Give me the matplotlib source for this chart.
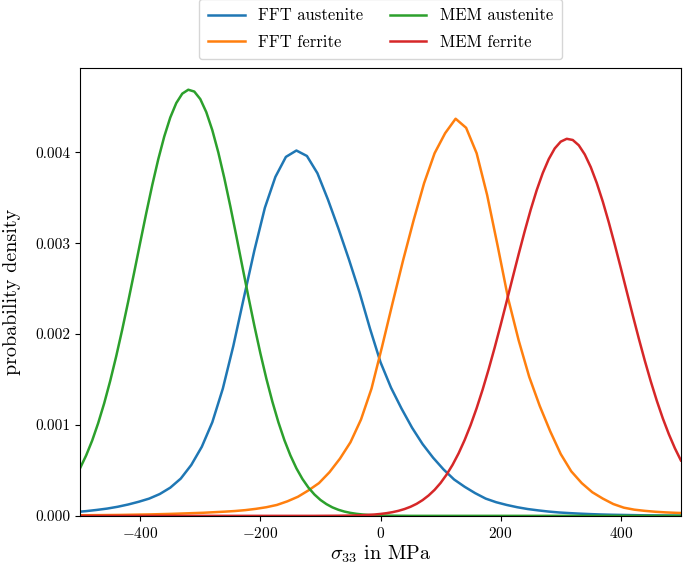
import numpy as np
import matplotlib
matplotlib.use("Agg")
import matplotlib.pyplot as plt

plt.rcParams['font.family'] = 'serif'
plt.rcParams['font.serif'] = ['cmr10']
plt.rcParams['mathtext.fontset'] = 'cm'
plt.rcParams['axes.formatter.use_mathtext'] = True
plt.rcParams['font.size'] = 11

# FFT results (binned, coarse grid)
x_fft_austenite = np.arange(-507.5, 508, 17.5)
fft_austenite = [
    0.000042, 0.000052, 0.000065, 0.000080, 0.000100, 0.000125, 0.000155, 0.000190,
    0.00024, 0.00031, 0.00041, 0.00056, 0.00076, 0.00103, 0.00140, 0.00187,
    0.00240, 0.00292, 0.00339, 0.00373, 0.00395, 0.00402,
    0.00396, 0.00377, 0.00348, 0.00316, 0.00282, 0.00246, 0.00206, 0.00169,
    0.00141, 0.00118, 0.00097, 0.00079, 0.00064, 0.00051, 0.00040, 0.00032,
    0.00025, 0.00019, 0.00015, 0.00012, 0.000095, 0.000075, 0.000060, 0.000047,
    0.000037, 0.000030, 0.000024, 0.000019, 0.000015, 0.000012, 0.000010, 0.000008,
    0.000006, 0.000005, 0.000004, 0.000003, 0.000003,
]

x_fft_ferrite = np.arange(-505, 511, 17.5)
fft_ferrite = [
    0.000006, 0.000007, 0.000008, 0.000009, 0.000010, 0.000012, 0.000014, 0.000016,
    0.000019, 0.000022, 0.000026, 0.000030, 0.000034, 0.000040, 0.000046, 0.000053,
    0.000063, 0.000077, 0.000095, 0.00012, 0.00016, 0.00021, 0.00028, 0.00036,
    0.00048, 0.00063, 0.00081, 0.00106, 0.00140, 0.00186, 0.00234, 0.00281,
    0.00325, 0.00366, 0.00399, 0.00421,
    0.00437, 0.00427, 0.00399, 0.00353, 0.00297, 0.00239, 0.00193, 0.00153,
    0.00121, 0.00093, 0.00068, 0.00049, 0.00036, 0.00026, 0.00019, 0.00013,
    0.000090, 0.000068, 0.000055, 0.000045, 0.000038, 0.000033, 0.000030,
]

# MEM results (smooth, fine grid)
x_mem = np.arange(-500, 501, 10)
mem_austenite = [
    0.000526, 0.000665, 0.000828, 0.001020, 0.001238, 0.001484, 0.001755, 0.002048,
    0.002359, 0.002681, 0.003008, 0.003330, 0.003639, 0.003923, 0.004174, 0.004383,
    0.004542, 0.004646, 0.004689, 0.004669, 0.004586, 0.004442, 0.004244, 0.003999,
    0.003716, 0.003406, 0.003079, 0.002744, 0.002413, 0.002092, 0.001789, 0.001509,
    0.001256, 0.001030, 0.000833, 0.000665, 0.000523, 0.000406, 0.000311, 0.000235,
    0.000175, 0.000129, 0.000093, 0.0000666, 0.0000469, 0.0000326, 0.0000223, 0.0000151,
    0.0000100, 0.0000066, 0.0000043, 0.0000027, 0.0000017, 0.0000010, 0.0000007,
] + [0.0] * 46
mem_ferrite = [0.0] * 40 + [
    0.0000004, 0.0000007, 0.0000010, 0.0000015, 0.0000023, 0.0000034, 0.0000050, 0.0000073,
    0.0000105, 0.0000149, 0.0000211, 0.0000294, 0.0000407, 0.0000555, 0.0000750, 0.000100,
    0.000132, 0.000173, 0.000224, 0.000286, 0.000362, 0.000454, 0.000562, 0.000688,
    0.000834, 0.000999, 0.001185, 0.001390, 0.001613, 0.001851, 0.002101, 0.002360,
    0.002622, 0.002881, 0.003132, 0.003369, 0.003584, 0.003771, 0.003925, 0.004043,
    0.004118, 0.004149, 0.004136, 0.004078, 0.003977, 0.003837, 0.003662, 0.003458,
    0.003229, 0.002983, 0.002727, 0.002465, 0.002204, 0.001950, 0.001706, 0.001477,
    0.001265, 0.001071, 0.000898, 0.000744, 0.000610,
]

fig, ax = plt.subplots(figsize=(6.85, 5.7), dpi=100)
fig.subplots_adjust(left=0.117, right=0.994, bottom=0.095, top=0.881)

ax.plot(x_fft_austenite, fft_austenite, lw=1.8, label="FFT austenite")
ax.plot(x_fft_ferrite, fft_ferrite, lw=1.8, label="FFT ferrite")
ax.plot(x_mem, mem_austenite, lw=1.8, label="MEM austenite")
ax.plot(x_mem, mem_ferrite, lw=1.8, label="MEM ferrite")

ax.set_xlim(-500, 500)
ax.set_ylim(0, 0.00493)
ax.set_xticks([-400, -200, 0, 200, 400])
ax.set_yticks([0, 0.001, 0.002, 0.003, 0.004])
ax.yaxis.set_major_formatter(matplotlib.ticker.FormatStrFormatter('%.3f'))
ax.set_xlabel(r"$\sigma_{33}$ in MPa", fontsize=14.5, labelpad=2)
ax.set_ylabel("probability density", fontsize=14.5, labelpad=10)
ax.legend(loc="lower center", bbox_to_anchor=(0.5, 1.0), ncol=2,
          fontsize=12, columnspacing=1.6, handlelength=2.2,
          labelspacing=0.7, borderpad=0.55)

fig.savefig("out.png", dpi=100)
